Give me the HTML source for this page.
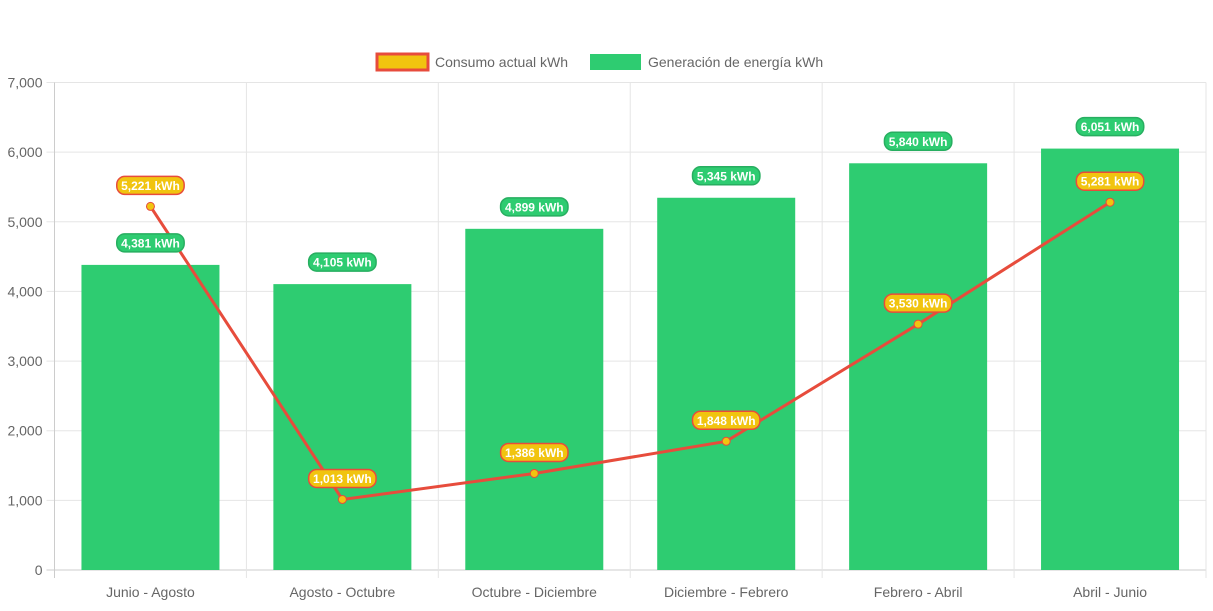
<!DOCTYPE html>
<html><head><meta charset="utf-8"><style>
body{margin:0;background:#fff;font-family:"Liberation Sans",sans-serif;}
svg text{font-family:"Liberation Sans",sans-serif;}
</style></head><body>
<svg id="c" width="1213" height="606"></svg>
<script>
const categories=["Junio - Agosto","Agosto - Octubre","Octubre - Diciembre","Diciembre - Febrero","Febrero - Abril","Abril - Junio"];
const consumo=[5221,1013,1386,1848,3530,5281];
const generacion=[4381,4105,4899,5345,5840,6051];
const yTicks=[0,1000,2000,3000,4000,5000,6000,7000];
const svg=document.getElementById('c');
const NS='http://www.w3.org/2000/svg';
const L=54.5,R=1206,T=82.5,B=570,YMAX=7000;
const bw=(R-L)/categories.length;
const x=i=>L+bw*(i+0.5);
const y=v=>B-(v/YMAX)*(B-T);
function el(t,a,p){const e=document.createElementNS(NS,t);for(const k in a)e.setAttribute(k,a[k]);(p||svg).appendChild(e);return e;}
const fmt=v=>v.toLocaleString('en-US');
// grid
yTicks.forEach(v=>{
  const g=el('line',{x1:L-8,x2:R,y1:y(v),y2:y(v),stroke:v===0?'#ccc':'#e5e5e5'});
  
  
  const t=el('text',{x:L-12,y:y(v)+5,'text-anchor':'end','font-size':14,fill:'#666'});
  t.textContent=fmt(v);
  
  
});
for(let i=0;i<=categories.length;i++){
  const g=el('line',{x1:L+bw*i,x2:L+bw*i,y1:T,y2:B+8,stroke:i===0?'#ccc':'#e5e5e5'});
  
  
}
categories.forEach((c,i)=>{
  const t=el('text',{x:x(i),y:597,'text-anchor':'middle','font-size':14,fill:'#666'});
  t.textContent=c;
  
  
});
// bars
const barW=138;
generacion.forEach((v,i)=>{
  const r=el('rect',{x:x(i)-barW/2,y:y(v),width:barW,height:B-y(v),fill:'#2ecc71'});
  
  
});
// line
const pts=consumo.map((v,i)=>x(i)+','+y(v)).join(' ');
const pl=el('polyline',{points:pts,fill:'none',stroke:'#e74c3c','stroke-width':3});


consumo.forEach((v,i)=>{
  const p=el('circle',{cx:x(i),cy:y(v),r:4,fill:'#f1c40f',stroke:'#e74c3c','stroke-width':1});
  
  
});
function badge(cx,cy,txt,fill,stroke,name){
  const g=el('g',{});
  
  
  const w=txt.length*6.6+8;
  el('rect',{x:cx-w/2,y:cy-9,width:w,height:18,rx:8,fill:fill,stroke:stroke,'stroke-width':1.5},g);
  const t=el('text',{x:cx,y:cy+4.5,'text-anchor':'middle','font-size':12,'font-weight':'bold',fill:'#fff'},g);
  t.textContent=txt;
}
generacion.forEach((v,i)=>badge(x(i),y(v)-22,fmt(v)+' kWh','#2ecc71','#27ae60','label-generacion'));
consumo.forEach((v,i)=>badge(x(i),y(v)-21,fmt(v)+' kWh','#f1c40f','#e74c3c','label-consumo'));
// legend
const lg=el('g',{});


const l1=el('rect',{x:377,y:54,width:51,height:16,fill:'#f1c40f',stroke:'#e74c3c','stroke-width':3},lg);


const t1=el('text',{x:435,y:67,'font-size':14,fill:'#666'},lg);t1.textContent='Consumo actual kWh';


const l2=el('rect',{x:590,y:54,width:51,height:16,fill:'#2ecc71'},lg);


const t2=el('text',{x:648,y:67,'font-size':14,fill:'#666'},lg);t2.textContent='Generación de energía kWh';


</script>
</body></html>
